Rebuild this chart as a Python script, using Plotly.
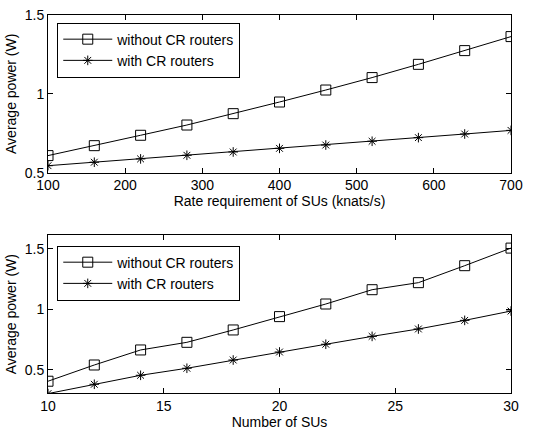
import plotly.graph_objects as go
from plotly.subplots import make_subplots

# Top panel: average power vs. rate requirement
rate = [100, 160, 220, 280, 340, 400, 460, 520, 580, 640, 700]
rate_without = [0.608, 0.671, 0.737, 0.802, 0.874, 0.948, 1.024, 1.103, 1.187, 1.274, 1.363]
rate_with = [0.544, 0.566, 0.587, 0.610, 0.631, 0.654, 0.675, 0.699, 0.722, 0.745, 0.768]

# Bottom panel: average power vs. number of SUs
num_su = [10, 12, 14, 16, 18, 20, 22, 24, 26, 28, 30]
su_without = [0.407, 0.541, 0.665, 0.728, 0.830, 0.940, 1.044, 1.162, 1.220, 1.360, 1.505]
su_with = [0.305, 0.382, 0.456, 0.514, 0.582, 0.648, 0.712, 0.777, 0.838, 0.909, 0.986]

names = ["without CR routers", "with CR routers"]
FONT = "Liberation Sans, Arial, sans-serif"
FS = 14

fig = make_subplots(rows=2, cols=1, vertical_spacing=0.166)

def add_pair(x, y1, y2, row, legend):
    fig.add_trace(go.Scatter(
        x=x, y=y1, mode="lines+markers", name=names[0], legend=legend,
        line=dict(color="black", width=1),
        marker=dict(symbol="square-open", size=10, color="black", line=dict(width=1)),
    ), row=row, col=1)
    fig.add_trace(go.Scatter(
        x=x, y=y2, mode="lines+markers", name=names[1], legend=legend,
        line=dict(color="black", width=1),
        marker=dict(symbol="asterisk-open", size=8, color="black", line=dict(width=1, color="black")),
    ), row=row, col=1)

add_pair(rate, rate_without, rate_with, 1, "legend")
add_pair(num_su, su_without, su_with, 2, "legend2")

axis_common = dict(
    showline=True, linecolor="black", linewidth=1, mirror="ticks",
    ticks="inside", ticklen=5, tickcolor="black", showgrid=False, zeroline=False,
    tickfont=dict(family=FONT, size=FS, color="black"), automargin=False,
)
title_font = dict(family=FONT, size=FS, color="black")

fig.update_xaxes(axis_common)
fig.update_yaxes(axis_common)

fig.update_xaxes(range=[100, 700], tickvals=[100, 200, 300, 400, 500, 600, 700],
                 title=dict(text="Rate requirement of SUs (knats/s)", standoff=2, font=title_font),
                 row=1, col=1)
fig.update_yaxes(range=[0.5, 1.5], tickvals=[0.5, 1, 1.5], ticktext=["0.5", "1", "1.5"],
                 title=dict(text="Average power (W)", standoff=4, font=title_font),
                 row=1, col=1)
fig.update_xaxes(range=[10, 30], tickvals=[10, 15, 20, 25, 30],
                 title=dict(text="Number of SUs", standoff=4, font=title_font),
                 row=2, col=1)
fig.update_yaxes(range=[0.31, 1.61], tickvals=[0.5, 1, 1.5], ticktext=["0.5", "1", "1.5"],
                 title=dict(text="Average power (W)", standoff=4, font=title_font),
                 row=2, col=1)

fig.update_layout(xaxis=dict(domain=[0, 1]), yaxis=dict(domain=[0.583, 1.0]),
                  xaxis2=dict(domain=[0, 1]), yaxis2=dict(domain=[0.0, 0.417]))

legend_common = dict(
    xanchor="left", yanchor="top", bgcolor="white",
    bordercolor="black", borderwidth=1,
    font=dict(family=FONT, size=FS, color="black"),
    itemwidth=49, tracegroupgap=0,
)
fig.update_layout(
    legend=dict(legend_common, x=0.02, y=0.98),
    legend2=dict(legend_common, x=0.02, y=0.39),
)

fig.update_layout(
    width=546, height=436,
    margin=dict(l=48, r=35, t=15, b=43),
    plot_bgcolor="white", paper_bgcolor="white",
    font=dict(family=FONT, color="black"),
    showlegend=True,
)

fig.write_html("out.html")
